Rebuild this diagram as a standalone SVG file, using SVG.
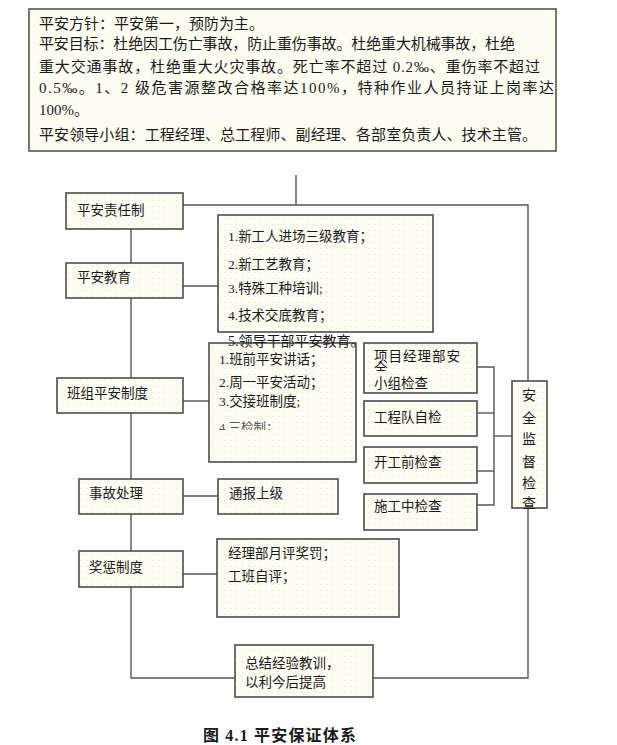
<svg xmlns="http://www.w3.org/2000/svg" width="617" height="745" viewBox="0 0 617 745">
<defs>
<pattern id="dots" width="6" height="6" patternUnits="userSpaceOnUse">
<rect width="6" height="6" fill="#fdfdf3"/>
<rect x="2" y="2" width="1" height="1" fill="#e4e4c8"/>
</pattern>
<clipPath id="clip4"><rect x="200" y="410" width="160" height="20"/></clipPath>
<clipPath id="clipQ"><rect x="360" y="355" width="120" height="16"/></clipPath>
<style>
text{font-family:"Liberation Serif","Noto Sans CJK SC",sans-serif;fill:#1a1a1a;}
.box{fill:url(#dots);stroke:#4d4d4d;stroke-width:1.6;}
.top{fill:#fdfdf1;stroke:#555;stroke-width:1.6;}
.ln{fill:none;stroke:#555;stroke-width:1.4;}
.t{font-size:13.5px;}
.h{font-size:15px;}
.v{font-size:14px;text-anchor:middle;}
</style>
</defs>
<rect width="617" height="745" fill="#ffffff"/>

<g id="policy">
<rect class="top" x="29" y="9" width="527" height="142"/>
<text class="h" x="39" y="29">平安方针：平安第一，预防为主。</text>
<text class="h" x="39" y="49" textLength="476" lengthAdjust="spacing">平安目标：杜绝因工伤亡事故，防止重伤事故。杜绝重大机械事故，杜绝</text>
<text class="h" x="39" y="72" textLength="501" lengthAdjust="spacing">重大交通事故，杜绝重大火灾事故。死亡率不超过 0.2‰、重伤率不超过</text>
<text class="h" x="39" y="93" textLength="515" lengthAdjust="spacing">0.5‰。1、2 级危害源整改合格率达100%，特种作业人员持证上岗率达</text>
<text class="h" x="39" y="115">100%。</text>
<text class="h" x="39" y="140" textLength="498" lengthAdjust="spacing">平安领导小组：工程经理、总工程师、副经理、各部室负责人、技术主管。</text>
</g>

<g id="connectors">
<polyline class="ln" points="296,175 296,205"/>
<polyline class="ln" points="183,205 528,205 528,381"/>
<polyline class="ln" points="528,508 528,678 373,678"/>
<polyline class="ln" points="131,229 131,678 235,678"/>
<line class="ln" x1="183" y1="286" x2="218" y2="286"/>
<line class="ln" x1="183" y1="401" x2="209" y2="401"/>
<line class="ln" x1="183" y1="496" x2="218" y2="496"/>
<line class="ln" x1="183" y1="574" x2="217" y2="574"/>
<polyline class="ln" points="477,367 494,367 494,505 477,505"/>
<line class="ln" x1="477" y1="413" x2="494" y2="413"/>
<line class="ln" x1="477" y1="471" x2="494" y2="471"/>
<line class="ln" x1="494" y1="436" x2="512" y2="436"/>
</g>

<g id="n-zeren">
<rect class="box" x="66" y="193" width="117" height="36"/>
<text class="t" x="77" y="215">平安责任制</text>
</g>
<g id="n-jiaoyu">
<rect class="box" x="66" y="263" width="117" height="35"/>
<text class="t" x="77" y="282">平安教育</text>
</g>
<g id="n-jiaoyu-list">
<rect class="box" x="218" y="215" width="215" height="117"/>
<text class="t" x="228" y="241">1.新工人进场三级教育；</text>
<text class="t" x="228" y="269">2.新工艺教育；</text>
<text class="t" x="228" y="293">3.特殊工种培训;</text>
<text class="t" x="228" y="320">4.技术交底教育；</text>
</g>
<g id="n-banzu">
<rect class="box" x="57" y="378" width="126" height="35"/>
<text class="t" x="67" y="398">班组平安制度</text>
</g>
<g id="n-banzu-list">
<rect class="box" x="209" y="343" width="147" height="119"/>
<text class="t" x="219" y="364">1.班前平安讲话；</text>
<text class="t" x="219" y="387">2.周一平安活动；</text>
<text class="t" x="219" y="406">3.交接班制度;</text>
<text class="t" x="219" y="432" style="font-size:12.5px;fill:#555" clip-path="url(#clip4)">4.三检制；</text>
</g>
<text class="t" x="228" y="346" style="font-size:14px">5.领导干部平安教育。</text>
<g id="n-shigu">
<rect class="box" x="79" y="479" width="104" height="35"/>
<text class="t" x="89" y="498">事故处理</text>
</g>
<g id="n-tongbao">
<rect class="box" x="218" y="479" width="120" height="35"/>
<text class="t" x="229" y="498">通报上级</text>
</g>
<g id="n-xiangmu">
<rect class="box" x="364" y="343" width="113" height="50"/>
<text class="t" x="374" y="361" letter-spacing="1">项目经理部安</text>
<text class="t" x="374" y="373" clip-path="url(#clipQ)">全</text>
<text class="t" x="374" y="388">小组检查</text>
</g>
<g id="n-zijian">
<rect class="box" x="364" y="401" width="113" height="35"/>
<text class="t" x="374" y="422">工程队自检</text>
</g>
<g id="n-kaigong">
<rect class="box" x="364" y="447" width="113" height="36"/>
<text class="t" x="374" y="467">开工前检查</text>
</g>
<g id="n-shigong">
<rect class="box" x="364" y="494" width="113" height="36"/>
<text class="t" x="374" y="511">施工中检查</text>
</g>
<g id="n-jiandu">
<rect class="box" x="512" y="381" width="35" height="127"/>
<text class="v" x="529" y="400">安</text>
<text class="v" x="529" y="423">全</text>
<text class="v" x="529" y="444">监</text>
<text class="v" x="529" y="467">督</text>
<text class="v" x="529" y="488">检</text>
<text class="v" x="529" y="508">查</text>
</g>
<g id="n-jiangcheng">
<rect class="box" x="79" y="551" width="104" height="36"/>
<text class="t" x="89" y="572">奖惩制度</text>
</g>
<g id="n-jiangcheng-list">
<rect class="box" x="217" y="539" width="182" height="78"/>
<text class="t" x="228" y="558">经理部月评奖罚；</text>
<text class="t" x="228" y="581">工班自评；</text>
</g>
<g id="n-zongjie">
<rect class="box" x="235" y="645" width="138" height="52"/>
<text class="t" x="245" y="668">总结经验教训，</text>
<text class="t" x="245" y="687">以利今后提高</text>
</g>

<text x="203" y="741" textLength="153" lengthAdjust="spacing" style="font-size:16px;font-weight:bold">图 4.1 平安保证体系</text>
</svg>
